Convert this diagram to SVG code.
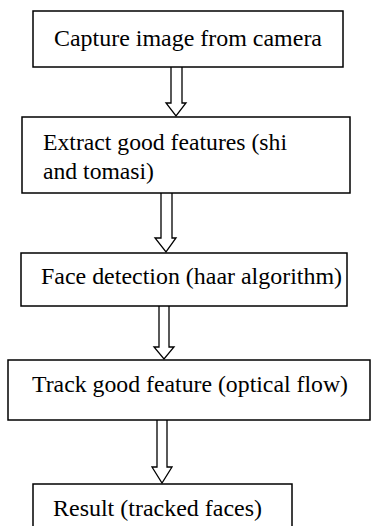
<svg xmlns="http://www.w3.org/2000/svg" width="371" height="526" viewBox="0 0 371 526">
<style>
.box{fill:#fff;stroke:#000;stroke-width:1.5}
.arr{fill:#fff;stroke:#000;stroke-width:1.3;stroke-linejoin:miter}
.t{font-size:22.5px;fill:#000}
</style>
<rect width="371" height="526" fill="#fff"/>
<g id="connectors">
<path class="arr" d="M171,67 V103 H166 L176,116 L186,103 H182 V67"/>
<path class="arr" d="M161,193 V238 H155 L166,252 L176,238 H172 V193"/>
<path class="arr" d="M159,306 V347 H154 L164,359 L174,347 H169 V306"/>
<path class="arr" d="M157,420 V467 H152 L162,483 L172,467 H167 V420"/>
</g>
<g font-family="Liberation Serif, Times New Roman, serif">
<g id="n1">
<rect class="box" x="33" y="11" width="310" height="56"/>
<text class="t" x="54" y="46" textLength="268" lengthAdjust="spacingAndGlyphs">Capture image from camera</text>
</g>
<g id="n2">
<rect class="box" x="22" y="117" width="328" height="76"/>
<text class="t" x="43" y="150" textLength="244" lengthAdjust="spacingAndGlyphs">Extract good features (shi</text>
<text class="t" x="43" y="179" textLength="111" lengthAdjust="spacingAndGlyphs">and tomasi)</text>
</g>
<g id="n3">
<rect class="box" x="21" y="253" width="326" height="53"/>
<text class="t" x="41" y="284" textLength="301" lengthAdjust="spacingAndGlyphs">Face detection (haar algorithm)</text>
</g>
<g id="n4">
<rect class="box" x="8" y="360" width="362" height="60"/>
<text class="t" x="32" y="392" textLength="316" lengthAdjust="spacingAndGlyphs">Track good feature (optical flow)</text>
</g>
<g id="n5">
<rect class="box" x="33" y="484" width="259" height="50"/>
<text class="t" x="53" y="516" textLength="209" lengthAdjust="spacingAndGlyphs">Result (tracked faces)</text>
</g>
</g>
</svg>
